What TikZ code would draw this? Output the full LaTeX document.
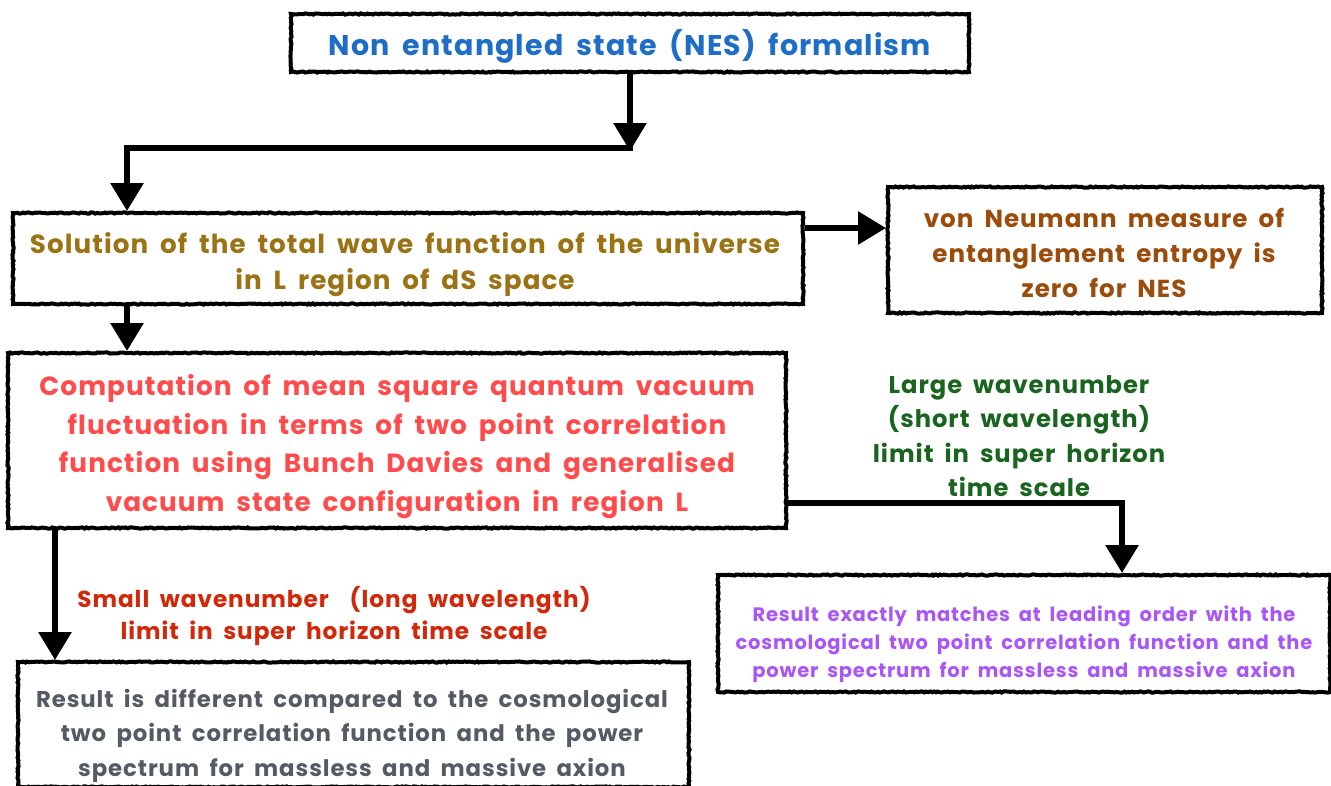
\documentclass[tikz,border=0pt]{standalone}
\usepackage{fontspec}
\setmainfont{Poppins}[WordSpace=1.8, LetterSpace=4]
\usetikzlibrary{arrows.meta,decorations.pathmorphing,calc}
\definecolor{cblue}{RGB}{30,110,200}
\definecolor{colive}{RGB}{155,115,20}
\definecolor{cbrown}{RGB}{155,75,10}
\definecolor{cred}{RGB}{255,75,75}
\definecolor{cgrey}{RGB}{85,90,100}
\definecolor{cpurple}{RGB}{170,85,245}
\definecolor{cgreen}{RGB}{25,100,30}
\definecolor{cdred}{RGB}{210,40,10}
\tikzset{
  chalkbox/.style={draw=black, line width=4pt, fill=white, inner sep=0pt,
    decorate, decoration={random steps, segment length=2pt, amplitude=0.6pt}},
  arr/.style={line width=6pt, draw=black, -{Triangle[length=28pt,width=32pt]}},
  txt/.style={align=center, inner sep=0pt}
}
\begin{document}
\begin{tikzpicture}[x=1pt,y=-1pt]
\useasboundingbox (0,0) rectangle (1331,785);
\fill[white] (0,0) rectangle (1331,785);

% boxes
\node[chalkbox, minimum width=678pt, minimum height=58pt] (b1) at (630,43) {};
\node[chalkbox, minimum width=790pt, minimum height=91pt] (b2) at (408,258.5) {};
\node[chalkbox, minimum width=434pt, minimum height=126pt] (b3) at (1105,250) {};
\node[chalkbox, minimum width=778pt, minimum height=175pt] (b4) at (397,440.5) {};
\node[chalkbox, minimum width=671pt, minimum height=125pt] (b5) at (353.5,724.5) {};
\node[chalkbox, minimum width=612pt, minimum height=117pt] (b6) at (1024,633.5) {};

% texts
\node[txt, text=cblue, font=\bfseries\fontsize{28.5}{34}\selectfont] (t1) at (630,46)
  {Non entangled state (NES) formalism};
\node[txt, text=colive, font=\bfseries\fontsize{26.2}{36}\selectfont] (t2) at (405,265)
  {Solution of the total wave function of the universe\\in L region of dS space};
\node[txt, text=cbrown, font=\bfseries\fontsize{24.6}{35}\selectfont] (t3) at (1104,253)
  {von Neumann measure of\\entanglement entropy is\\zero for NES};
\node[txt, text=cred, font=\bfseries\fontsize{26.3}{38.7}\selectfont] (t4) at (397,446.5)
  {Computation of mean square quantum vacuum\\fluctuation in terms of two point correlation\\function using Bunch Davies and generalised\\vacuum state configuration in region L};
\node[txt, text=cgrey, font=\bfseries\fontsize{22.8}{34.5}\selectfont] (t5) at (352,735.5)
  {Result is different compared to the cosmological\\two point correlation function and the power\\spectrum for massless and massive axion};
\node[txt, text=cpurple, font=\bfseries\fontsize{19.5}{28}\selectfont] (t6) at (1024,644.5)
  {Result exactly matches at leading order with the\\cosmological two point correlation function and the\\power spectrum for massless and massive axion};
\node[txt, text=cgreen, font=\bfseries\fontsize{24.2}{34.3}\selectfont] (lg) at (1019,436)
  {Large wavenumber\\(short wavelength)\\limit in super horizon\\time scale};
\node[txt, text=cdred, font=\bfseries\fontsize{23.2}{32}\selectfont] (ls) at (334,616)
  {Small wavenumber\ \ (long wavelength)\\limit in super horizon time scale};

% connectors
\coordinate (j1) at (630,148);
\coordinate (j2) at (127,148);
\coordinate (j3) at (845,228);
\coordinate (x55) at (55,600);
\coordinate (c6) at (1122,503);

\draw[arr, shorten >=-3pt] (b1.south) -- (j1);
\draw[arr] ([xshift=3pt]j1) -- (j2) -- (j2 |- b2.north);
\draw[arr] (b2.east |- j3) -- (b3.west |- j3);
\draw[arr] (j2 |- b2.south) -- (j2 |- b4.north);
\draw[arr] (x55 |- b4.south) -- (x55 |- b5.north);
\draw[arr] (b4.east |- c6) -- (c6) -- (c6 |- b6.north);
\end{tikzpicture}
\end{document}
